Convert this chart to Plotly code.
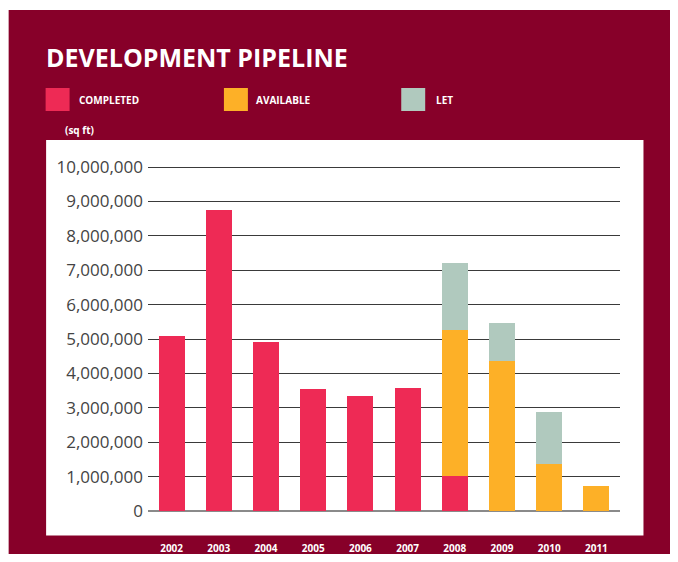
import plotly.graph_objects as go

years = ["2002", "2003", "2004", "2005", "2006", "2007", "2008", "2009", "2010", "2011"]
completed = [5100000, 8750000, 4900000, 3540000, 3330000, 3570000, 1020000, None, None, None]
available = [None, None, None, None, None, None, 4230000, 4350000, 1370000, 720000]
let_ = [None, None, None, None, None, None, 1970000, 1130000, 1500000, None]
y_ticks = [0, 1000000, 2000000, 3000000, 4000000, 5000000, 6000000, 7000000, 8000000, 9000000, 10000000]
y_labels = [f"{v:,}" for v in y_ticks]

series_names = ["COMPLETED", "AVAILABLE", "LET"]
colors = ["#EE2A55", "#FDB027", "#B0C9BE"]
maroon = "#870029"

# page body has an 8px margin: work in window pixels, convert to figure pixels
OFF = 8
W, H = 678 - OFF, 562 - 2 * OFF
L, R, T, B = 147.5 - OFF, 620.0 - OFF, 166.0 - OFF, 511.0 - OFF

def px(x):
    return (x - OFF - L) / (R - L)

def py(y):
    return (B - (y - OFF)) / (B - T)

fig = go.Figure()
for name, vals, c in zip(series_names, [completed, available, let_], colors):
    fig.add_trace(go.Bar(x=years, y=vals, name=name, marker=dict(color=c, line=dict(width=0)),
                         showlegend=False))

shapes = [
    dict(type="rect", xref="paper", yref="paper", x0=px(8), x1=px(690), y0=py(10), y1=py(580),
         fillcolor=maroon, line=dict(width=0), layer="below"),
    dict(type="rect", xref="paper", yref="paper", x0=px(45.5), x1=px(643.5), y0=py(140), y1=py(535.5),
         fillcolor="white", line=dict(width=0), layer="below"),
]
annotations = [
    dict(text="<b>DEVELOPMENT PIPELINE</b>", xref="paper", yref="paper", x=px(43.5), y=py(57),
         xanchor="left", yanchor="middle", showarrow=False,
         font=dict(family="Open Sans", size=25, color="white")),
    dict(text="<b>(sq ft)</b>", xref="paper", yref="paper", x=px(62), y=py(130),
         xanchor="left", yanchor="middle", showarrow=False,
         font=dict(family="Open Sans", size=10, color="white")),
]
sw_x = [45, 223.5, 401]
txt_x = [76, 254, 434]
for name, c, sx, tx in zip(series_names, colors, sw_x, txt_x):
    shapes.append(dict(type="rect", xref="paper", yref="paper", x0=px(sx), x1=px(sx + 24),
                       y0=py(88), y1=py(111), fillcolor=c, line=dict(width=0), layer="above"))
    annotations.append(dict(text=f"<b>{name}</b>", xref="paper", yref="paper", x=px(tx), y=py(99.5),
                            xanchor="left", yanchor="middle", showarrow=False,
                            font=dict(family="Open Sans", size=10, color="white")))

fig.update_layout(
    width=W, height=H,
    margin=dict(l=L, r=W - R, t=T, b=H - B, pad=0, autoexpand=False),
    paper_bgcolor="white", plot_bgcolor="white",
    barmode="stack", bargap=0.45,
    shapes=shapes, annotations=annotations,
    xaxis=dict(showgrid=False, showline=False, zeroline=False, ticks="", automargin=False,
               tickfont=dict(family="Open Sans", size=10, color="white", weight="bold"),
               ticklabelstandoff=30, fixedrange=True),
    yaxis=dict(range=[0, 10030000], tickvals=y_ticks, ticktext=y_labels, automargin=False,
               showgrid=True, gridcolor="#3a3a3a", gridwidth=1,
               zeroline=True, zerolinecolor="#8a8a8a", zerolinewidth=2,
               showline=False, ticks="",
               tickfont=dict(family="Open Sans", size=17, color="#444444"),
               ticklabelstandoff=4, fixedrange=True),
)

fig.write_html("out.html")
